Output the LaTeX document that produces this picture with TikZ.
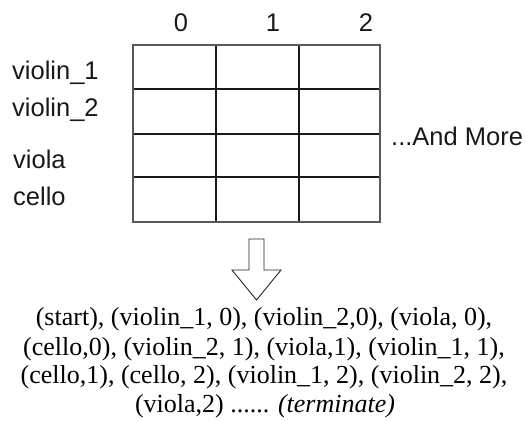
\documentclass[tikz,border=0pt]{standalone}
\usepackage{fontspec}
\setmainfont{Liberation Serif}
\newfontfamily\sansf{Liberation Sans}
\begin{document}
\begin{tikzpicture}[x=1pt,y=-1pt,
  lab/.style={font=\sansf\fontsize{25.5}{30}\selectfont, inner sep=0pt, text=black!90},
  seq/.style={font=\fontsize{26}{29}\selectfont, inner sep=0pt, anchor=base},
  gridline/.style={line width=1.4pt, draw=black!90},
  border/.style={line width=1.2pt, draw=black!65},
  hollow/.style={draw=black!85, line width=0.9pt, fill=white, line join=miter}]
\useasboundingbox (0,0) rectangle (526,420);
% grid
\draw[gridline] (216,45) -- (216,222);
\draw[gridline] (299,45) -- (299,222);
\draw[gridline] (133,89) -- (380,89);
\draw[gridline] (133,134) -- (380,134);
\draw[gridline] (133,177) -- (380,177);
\draw[border] (133,45) rectangle (380,222);
% column labels
\node[lab, anchor=base] (c0) at (181,32) {0};
\node[lab, anchor=base] (c1) at (273,32) {1};
\node[lab, anchor=base] (c2) at (366,32) {2};
% row labels
\node[lab, anchor=base west] (r1) at (12,79) {violin\_1};
\node[lab, anchor=base west] (r2) at (12,116) {violin\_2};
\node[lab, anchor=base west] (r3) at (13,168) {viola};
\node[lab, anchor=base west] (r4) at (13,205) {cello};
\node[lab, anchor=base west] (more) at (391,145) {...And More};
% hollow arrow
\draw[hollow] (249,239) -- (264,239) -- (264,270) -- (281,270) -- (256.5,300) -- (232,270) -- (249,270) -- cycle;
% sequence text
\node[seq] (s1) at (264,325) {(start), (violin\_1, 0), (violin\_2,0), (viola, 0),};
\node[seq] (s2) at (264,355) {(cello,0), (violin\_2, 1), (viola,1), (violin\_1, 1),};
\node[seq] (s3) at (264,383) {(cello,1), (cello, 2), (violin\_1, 2), (violin\_2, 2),};
\node[seq] (s4) at (265,412) {(viola,2) ...... \textit{(terminate)}};
\end{tikzpicture}
\end{document}
